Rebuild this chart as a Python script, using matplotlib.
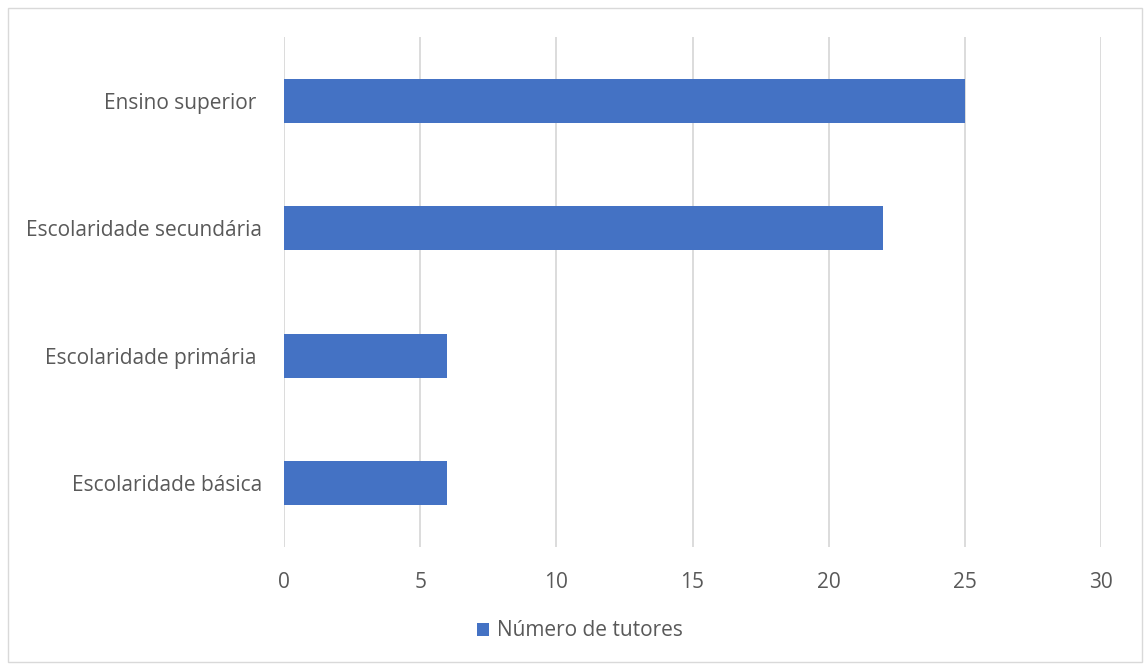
import matplotlib.pyplot as plt
from matplotlib.patches import Rectangle

categories = ['Escolaridade básica', 'Escolaridade primária ', 'Escolaridade secundária', 'Ensino superior ']
tutores = [6, 6, 22, 25]
x_ticks = [0, 5, 10, 15, 20, 25, 30]
series_name = 'Número de tutores'

plt.rcParams['font.family'] = ['Open Sans', 'DejaVu Sans']

fig = plt.figure(figsize=(11.44, 6.66), dpi=100)
ax = fig.add_axes([284 / 1144, 1 - 547 / 666, (1101 - 284) / 1144, (547 - 37) / 666])

# outer chart border
fig.patches.append(Rectangle((8 / 1144, 4 / 666), 1134 / 1144, 654 / 666,
                             transform=fig.transFigure, fill=False,
                             edgecolor='#d9d9d9', linewidth=1))

ax.barh(range(len(categories)), tutores, height=0.345, color='#4472c4',
        label=series_name, zorder=3)

ax.set_xlim(0, 30)
ax.set_ylim(-0.5, len(categories) - 0.5)
ax.set_xticks(x_ticks)
ax.set_yticks(range(len(categories)))
ax.set_yticklabels(categories)
ax.grid(axis='x', color='#d9d9d9', linewidth=1.3, zorder=0)
for s in ax.spines.values():
    s.set_visible(False)
ax.tick_params(length=0, labelsize=15, labelcolor='#595959')
ax.tick_params(axis='x', pad=18)
ax.tick_params(axis='y', pad=16)

fig.legend(loc='center', bbox_to_anchor=(580 / 1144, 1 - 631 / 666), frameon=False,
           fontsize=15, labelcolor='#595959', handlelength=0.6, handleheight=0.6,
           handletextpad=0.4)

fig.savefig('out.png', dpi=100)
